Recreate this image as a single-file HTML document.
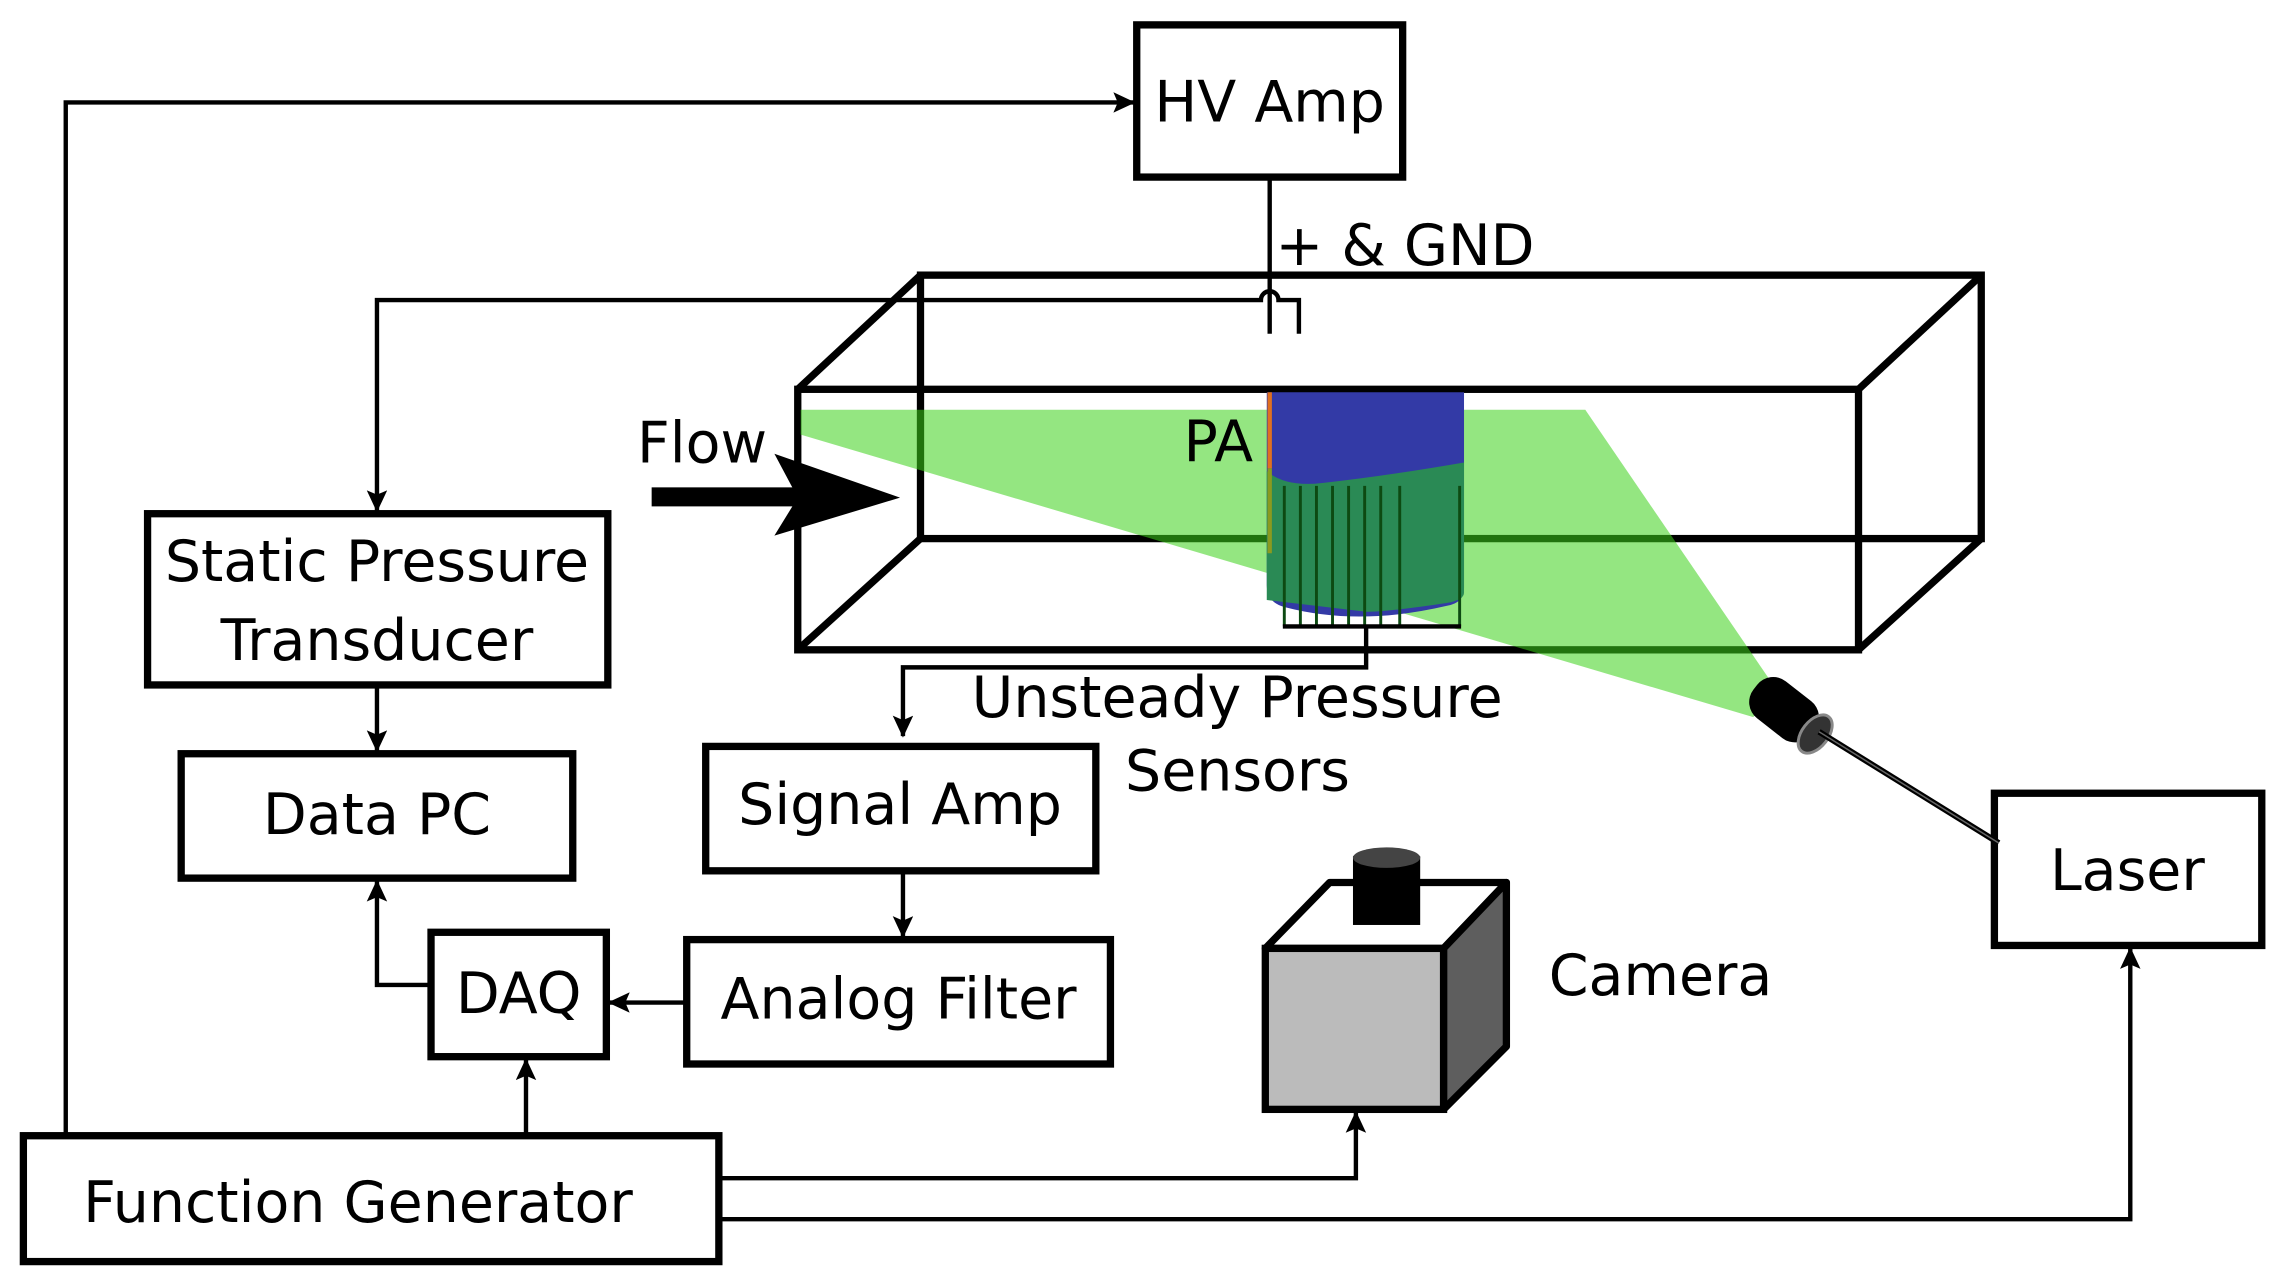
<!DOCTYPE html>
<html><head><style>html,body{margin:0;padding:0;background:#fff}svg{display:block}</style></head>
<body>
<svg width="2291" height="1285" viewBox="0 0 1568 878" preserveAspectRatio="none" xmlns="http://www.w3.org/2000/svg" font-family="DejaVu Sans, Liberation Sans, sans-serif" font-size="39">
<defs>
<marker id="a" markerWidth="16" markerHeight="16" refX="14" refY="7" orient="auto" markerUnits="userSpaceOnUse"><path d="M0,0 L15,7 L0,14 L3,7 z" fill="#000"/></marker>
</defs>
<g fill="none" stroke="#000" stroke-width="5">
<rect x="778" y="17" width="182" height="104"/>
<rect x="101" y="351" width="315" height="117"/>
<rect x="124" y="515" width="268" height="85"/>
<rect x="295" y="637" width="120" height="85"/>
<rect x="483" y="510" width="267" height="85"/>
<rect x="470" y="642" width="290" height="85"/>
<rect x="16" y="776" width="476" height="86"/>
<rect x="1365" y="542" width="183" height="104"/>
<rect x="630" y="188" width="726" height="180"/>
<rect x="546" y="266" width="726" height="178"/>
<line x1="546" y1="266" x2="630" y2="188"/>
<line x1="1272" y1="266" x2="1356" y2="188"/>
<line x1="546" y1="444" x2="630" y2="368"/>
<line x1="1272" y1="444" x2="1356" y2="368"/>
</g>
<!-- laser sheet -->
<polygon points="548,280 1085,280 1215,470 1200,490 548,297" fill="#3dd21a" fill-opacity="0.55"/>
<!-- PA cylinder -->
<path d="M867,268 H1002 V402 Q1002,412 990,414 Q930,428 880,415 Q867,412 867,400 Z" fill="#333aa6"/>
<path d="M867,322 Q880,333 905,330 Q950,325 1002,316 V405 Q1002,410 990,412 Q950,418 935,418 L867,410 Z" fill="#2a8a55"/>
<line x1="869" y1="268" x2="869" y2="320" stroke="#e07020" stroke-width="3"/>
<line x1="869" y1="320" x2="869" y2="378" stroke="#8a9a20" stroke-width="3"/>
<g stroke="#0d4a12" stroke-width="2" fill="none">
<line x1="879" y1="332" x2="879" y2="428"/><line x1="890" y1="332" x2="890" y2="428"/><line x1="901" y1="332" x2="901" y2="428"/><line x1="912" y1="332" x2="912" y2="428"/><line x1="923" y1="332" x2="923" y2="428"/><line x1="934" y1="332" x2="934" y2="428"/><line x1="945" y1="332" x2="945" y2="428"/><line x1="958" y1="332" x2="958" y2="428"/><line x1="999" y1="332" x2="999" y2="428"/>
<line x1="878" y1="428" x2="1000" y2="428" stroke="#000" stroke-width="3"/>
</g>
<!-- laser -->
<g transform="translate(1225,488) rotate(38)">
<rect x="-30" y="-16" width="50" height="32" rx="14" fill="#000"/>
<ellipse cx="22" cy="0" rx="9" ry="15" fill="#333" stroke="#888" stroke-width="2"/>
</g>
<line x1="1245" y1="500" x2="1368" y2="576" stroke="#000" stroke-width="4"/>
<line x1="1245" y1="500" x2="1368" y2="576" stroke="#666" stroke-width="1"/>
<!-- flow arrow -->
<rect x="446" y="333" width="100" height="13" fill="#000"/>
<polygon points="530,310 616,340 530,366 546,340" fill="#000"/>
<!-- connectors -->
<g fill="none" stroke="#000" stroke-width="3">
<polyline points="869,121 869,228"/>
<path d="M889,228 V205 H875 A6,6 0 0 0 863,205 H258 V349" marker-end="url(#a)"/>
<polyline points="935,428 935,456 618,456 618,503" marker-end="url(#a)"/>
<polyline points="258,468 258,513" marker-end="url(#a)"/>
<polyline points="295,673 258,673 258,602" marker-end="url(#a)"/>
<polyline points="618,595 618,640" marker-end="url(#a)"/>
<polyline points="470,685 417,685" marker-end="url(#a)"/>
<polyline points="360,776 360,724" marker-end="url(#a)"/>
<polyline points="45,776 45,70 776,70" marker-end="url(#a)"/>
<polyline points="492,805 928,805 928,760" marker-end="url(#a)"/>
<polyline points="492,833 1458,833 1458,648" marker-end="url(#a)"/>
</g>
<!-- camera -->
<polygon points="866,648 910,603 1031,603 988,648" fill="#fff" stroke="#000" stroke-width="5" stroke-linejoin="round"/>
<polygon points="988,648 1031,603 1031,715 988,758" fill="#5e5e5e" stroke="#000" stroke-width="5" stroke-linejoin="round"/>
<rect x="866" y="648" width="122" height="110" fill="#bbb" stroke="#000" stroke-width="5"/>
<rect x="926" y="585" width="46" height="47" fill="#000"/>
<ellipse cx="949" cy="586" rx="23" ry="7" fill="#444"/>
<g fill="#000">
<text x="869" y="83" text-anchor="middle">HV Amp</text>
<text x="873" y="181">+ &amp; GND</text>
<text x="436" y="316">Flow</text>
<text x="810" y="315">PA</text>
<text x="258" y="397" text-anchor="middle">Static Pressure</text>
<text x="258" y="451" text-anchor="middle">Transducer</text>
<text x="258" y="570" text-anchor="middle">Data PC</text>
<text x="355" y="692" text-anchor="middle">DAQ</text>
<text x="616" y="563" text-anchor="middle">Signal Amp</text>
<text x="615" y="696" text-anchor="middle">Analog Filter</text>
<text x="245" y="835" text-anchor="middle">Function Generator</text>
<text x="1456" y="608" text-anchor="middle">Laser</text>
<text x="1060" y="680">Camera</text>
<text x="665" y="490">Unsteady Pressure</text>
<text x="770" y="540">Sensors</text>
</g>
</svg>
</body></html>
